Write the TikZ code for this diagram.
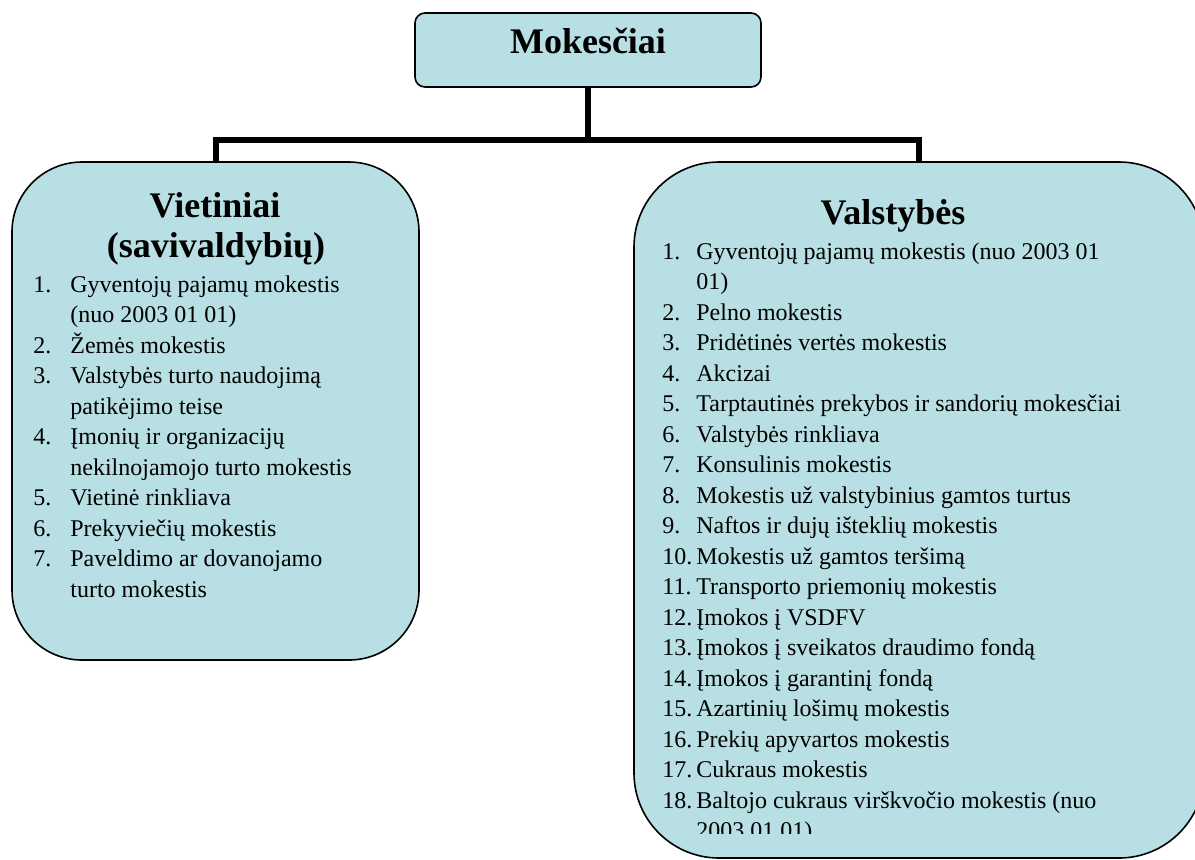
\documentclass[tikz,border=0pt]{standalone}
\usepackage{fontspec}
\setmainfont{Liberation Serif}
\usepackage{tikz}
\usetikzlibrary{positioning, calc}
\definecolor{box-blue}{RGB}{184,223,227}
\newcommand{\tnum}[2][18.5pt]{\makebox[#1][l]{#2}}

\begin{document}
\begin{tikzpicture}[
    x=0.5pt, y=-0.5pt,
    block/.style={rectangle, draw, fill=box-blue, line width=0.8pt},
    topblock/.style={block, rounded corners=5pt, minimum width=173pt, minimum height=37pt},
    sideblock/.style={block, rounded corners=#1},
    heading/.style={font=\fontsize{18}{20}\selectfont\bfseries, inner sep=0pt, anchor=base},
    list/.style={align=left, inner sep=0pt, anchor=base west, font=\fontsize{12}{15.25}\selectfont},
    link/.style={line width=3pt}
]
\useasboundingbox (0,0) rectangle (1195,859);

\node[topblock] (mokesciai) at (588,50) {};
\node[heading] (mokesciai-title) at (588,53) {Mokesčiai};

\node[sideblock=35pt, minimum width=203.5pt, minimum height=249pt] (vietiniai) at (215.5,411) {};
\node[sideblock=42.5pt, minimum width=285pt, minimum height=348pt] (valstybes) at (919,510) {};

\draw[link] (mokesciai.south) -- ++(0,52) -| (vietiniai.north);
\draw[link] (mokesciai.south) -- ++(0,52) -| (valstybes.north);

% vietiniai (base = last line)
\node[heading] (vietiniai-title) at (215,217) {Vietiniai};
\node[heading] (vietiniai-sub) at (216,257) {(savivaldybių)};
\node[list] (vietiniai-list) at (33,597) {%
\tnum{1.}Gyventojų pajamų mokestis\\
\tnum{}(nuo 2003 01 01)\\
\tnum{2.}Žemės mokestis\\
\tnum{3.}Valstybės turto naudojimą\\
\tnum{}patikėjimo teise\\
\tnum{4.}Įmonių ir organizacijų\\
\tnum{}nekilnojamojo turto mokestis\\
\tnum{5.}Vietinė rinkliava\\
\tnum{6.}Prekyviečių mokestis\\
\tnum{7.}Paveldimo ar dovanojamo\\
\tnum{}turto mokestis};

% valstybes (last line cut off by the box)
\node[heading] (valstybes-title) at (893,224) {Valstybės};
\begin{scope}
\clip (600,150) rectangle (1195,833);
\node[list] (valstybes-list) at (662,838.5) {%
\tnum[17pt]{1.}Gyventojų pajamų mokestis (nuo 2003 01\\
\tnum[17pt]{}01)\\
\tnum[17pt]{2.}Pelno mokestis\\
\tnum[17pt]{3.}Pridėtinės vertės mokestis\\
\tnum[17pt]{4.}Akcizai\\
\tnum[17pt]{5.}Tarptautinės prekybos ir sandorių mokesčiai\\
\tnum[17pt]{6.}Valstybės rinkliava\\
\tnum[17pt]{7.}Konsulinis mokestis\\
\tnum[17pt]{8.}Mokestis už valstybinius gamtos turtus\\
\tnum[17pt]{9.}Naftos ir dujų išteklių mokestis\\
\tnum[17pt]{10.}Mokestis už gamtos teršimą\\
\tnum[17pt]{11.}Transporto priemonių mokestis\\
\tnum[17pt]{12.}Įmokos į VSDFV\\
\tnum[17pt]{13.}Įmokos į sveikatos draudimo fondą\\
\tnum[17pt]{14.}Įmokos į garantinį fondą\\
\tnum[17pt]{15.}Azartinių lošimų mokestis\\
\tnum[17pt]{16.}Prekių apyvartos mokestis\\
\tnum[17pt]{17.}Cukraus mokestis\\
\tnum[17pt]{18.}Baltojo cukraus virškvočio mokestis (nuo\\
\tnum[17pt]{}2003 01 01)};
\end{scope}

\end{tikzpicture}
\end{document}
